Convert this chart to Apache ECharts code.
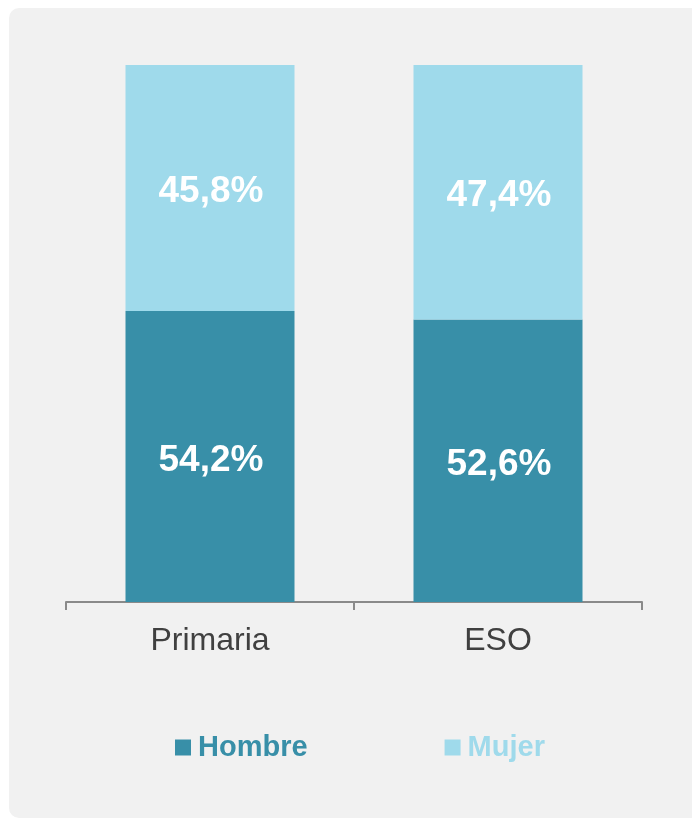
<!DOCTYPE html>
<html>
<head>
<meta charset="utf-8">
<script src="https://cdn.jsdelivr.net/npm/echarts@6/dist/echarts.min.js"></script>
<style>
  html, body { margin: 0; padding: 0; background: #ffffff; overflow: hidden; }
  #panel { position: absolute; left: 9px; top: 8px; width: 720px; height: 810px; background: #f1f1f1; border-radius: 10px; }
  #chart { position: absolute; left: 0; top: 0; width: 692px; height: 820px; }
</style>
</head>
<body>
<div id="panel"></div>
<div id="chart"></div>
<script>
// datos del gráfico
var categories = ['Primaria', 'ESO'];
var hombre = [54.2, 52.6];
var mujer = [45.8, 47.4];
var seriesNames = ['Hombre', 'Mujer'];
var colors = ['#388fa8', '#9fdaeb'];

var myChart = echarts.init(document.getElementById('chart'));

// formato con coma decimal
function fmt(p) {
  return p.value.toFixed(1).replace('.', ',') + '%';
}

var labelStyle = {
  show: true,
  position: 'inside',
  offset: [1, 4],
  color: '#ffffff',
  fontSize: 37,
  fontWeight: 'bold',
  fontFamily: 'Liberation Sans, Arial, sans-serif',
  formatter: fmt
};

var option = {
  backgroundColor: 'transparent',
  animation: false,
  grid: { left: 66, right: 50, top: 65, bottom: 218 },
  legend: {
    left: 170,
    top: 728,
    icon: 'rect',
    itemWidth: 16,
    itemHeight: 16,
    itemGap: 137,
    textStyle: { fontSize: 29, fontWeight: 'bold', fontFamily: 'Liberation Sans, Arial, sans-serif', padding: [0, 0, 0, 2] },
    data: [
      { name: seriesNames[0], textStyle: { color: colors[0] } },
      { name: seriesNames[1], textStyle: { color: colors[1] } }
    ]
  },
  xAxis: {
    type: 'category',
    data: categories,
    axisLine: { lineStyle: { color: '#8a8a8a', width: 2 } },
    axisTick: { show: true, length: 8, lineStyle: { color: '#8a8a8a', width: 2 } },
    axisLabel: { color: '#404040', fontSize: 32, margin: 23, fontFamily: 'Liberation Sans, Arial, sans-serif' }
  },
  yAxis: {
    type: 'value',
    min: 0,
    max: 100,
    show: false
  },
  series: [
    {
      name: seriesNames[0],
      type: 'bar',
      stack: 'total',
      barWidth: 169,
      data: hombre,
      itemStyle: { color: colors[0] },
      label: labelStyle
    },
    {
      name: seriesNames[1],
      type: 'bar',
      stack: 'total',
      barWidth: 169,
      data: mujer,
      itemStyle: { color: colors[1] },
      label: labelStyle
    }
  ]
};

myChart.setOption(option);
</script>
</body>
</html>
